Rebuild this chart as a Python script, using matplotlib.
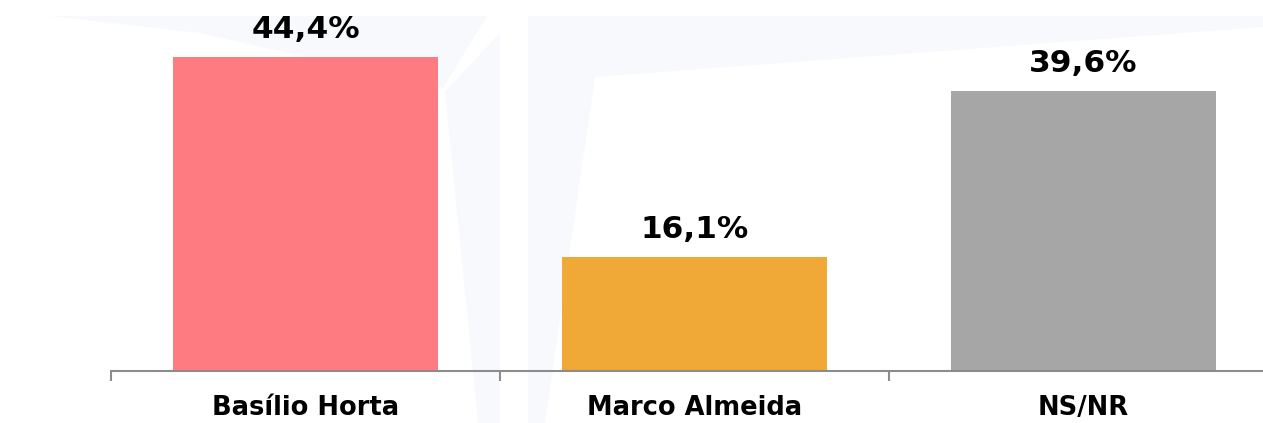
import matplotlib
matplotlib.use("Agg")
import matplotlib.pyplot as plt
from matplotlib.patches import Polygon

categories = ["Basílio Horta", "Marco Almeida", "NS/NR"]
values = [44.4, 16.1, 39.6]
value_labels = ["44,4%", "16,1%", "39,6%"]
colors = ["#ff7b82", "#f0a837", "#a6a6a6"]

W, H = 1263, 423
fig = plt.figure(figsize=(W / 100, H / 100), dpi=100)
fig.patch.set_facecolor("white")

# faint watermark shapes (figure pixel coords, y from top)
wm = "#f7f9fc"
shapes = [
    [(50, 16), (487, 16), (443, 88), (200, 33)],
    [(500, 33), (500, 423), (478, 423), (445, 92)],
    [(528, 16), (1263, 16), (1263, 27), (595, 77), (545, 423), (528, 423)],
]
bg = fig.add_axes([0, 0, 1, 1], zorder=0)
bg.set_xlim(0, W)
bg.set_ylim(H, 0)
bg.axis("off")
for s in shapes:
    bg.add_patch(Polygon(s, closed=True, facecolor=wm, edgecolor="none"))

x0, xr, ybase = 111, 1278, 371
ax = fig.add_axes([x0 / W, (H - ybase) / H, (xr - x0) / W, ybase / H], zorder=1)
ax.set_facecolor("none")
px_per_unit = (371 - 57) / 44.4
ax.set_ylim(0, ybase / px_per_unit)
ax.set_xlim(-0.5, len(categories) - 0.5)

xs = list(range(len(categories)))
ax.bar(xs, values, width=0.68, color=colors, zorder=2)
for x, v, lab in zip(xs, values, value_labels):
    ax.annotate(lab, (x, v), xytext=(0, 13.7), textcoords="offset points",
                ha="center", va="baseline", fontsize=22.5, fontweight="bold",
                color="black", annotation_clip=False)

for sp in ["top", "right", "left"]:
    ax.spines[sp].set_visible(False)
ax.spines["bottom"].set_color("#8c8c8c")
ax.spines["bottom"].set_linewidth(1.5)
ax.set_yticks([])
ax.set_xticks([-0.5, 0.5, 1.5, 2.5])
ax.set_xticklabels([])
ax.tick_params(axis="x", which="major", direction="out", length=7,
               width=1.5, color="#8c8c8c")
ax.set_xticks(xs, minor=True)
ax.set_xticklabels(categories, minor=True, fontsize=18.5, fontweight="bold")
ax.tick_params(axis="x", which="minor", length=0, pad=17)

fig.savefig("out.png", dpi=100, facecolor="white")
